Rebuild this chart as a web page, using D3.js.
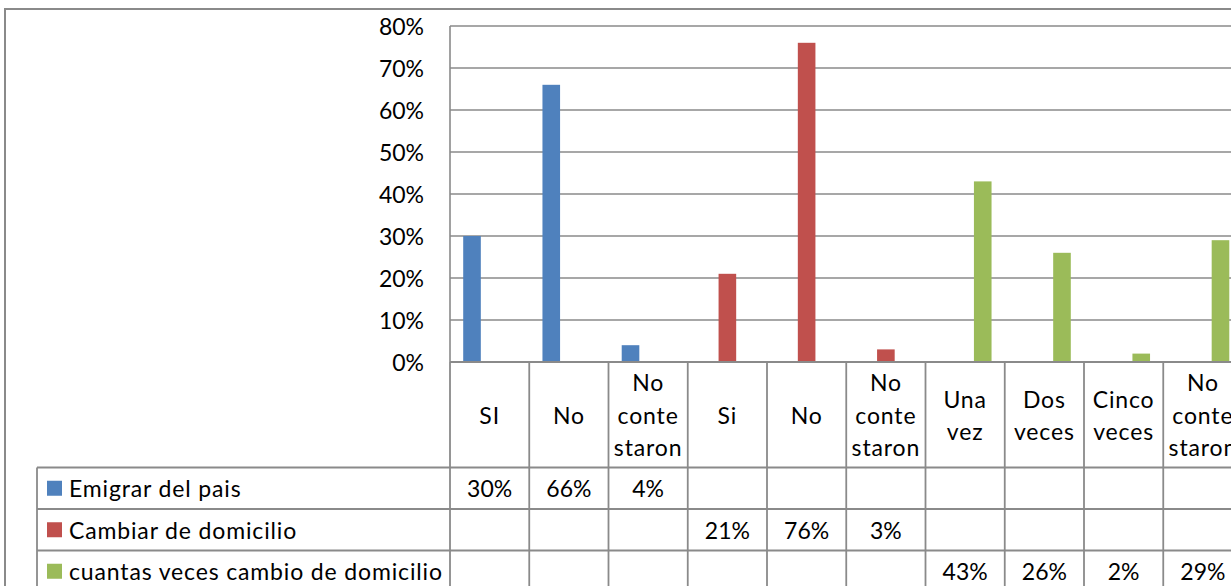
<!DOCTYPE html>
<html>
<head>
<meta charset="utf-8">
<script src="https://cdn.jsdelivr.net/npm/d3@7/dist/d3.min.js"></script>
<style>
  html, body { margin: 0; padding: 0; background: #fff; }
  svg { display: block; }
  text { font-family: Lato, "Liberation Sans", sans-serif; fill: #000; }
  text.word { letter-spacing: 0.85px; }
</style>
</head>
<body>
<svg id="chart" width="1231" height="586"></svg>
<script>
// Categories (header cells of the data table, one array of lines per cell)
const categories = [
  ["SI"], ["No"], ["No", "conte", "staron"],
  ["Si"], ["No"], ["No", "conte", "staron"],
  ["Una", "vez"], ["Dos", "veces"], ["Cinco", "veces"], ["No", "conte", "staron"]
];
const seriesNames = ["Emigrar del pais", "Cambiar de domicilio", "cuantas veces cambio de domicilio"];
const seriesColors = ["#4F81BD", "#C0504D", "#9BBB59"];
// Values in percent; null = no value for that category
const emigrar   = [30, 66, 4, null, null, null, null, null, null, null];
const cambiar   = [null, null, null, 21, 76, 3, null, null, null, null];
const cuantas   = [null, null, null, null, null, null, 43, 26, 2, 29];
const yTicks = [0, 10, 20, 30, 40, 50, 60, 70, 80];

const seriesValues = [emigrar, cambiar, cuantas];

const svg = d3.select("#chart");
const grey = "#8a8a8a";
const fontSize = 23;

// Layout
const plotLeft = 450, plotTop = 26, plotBottom = 362;
const colW = 79.25;
const tableLeft = 37;
const headerBottom = 467.5;
const rowH = 41.5;

// Chart area border
svg.append("rect")
  .attr("x", 5).attr("y", 9)
  .attr("width", 1300).attr("height", 700)
  .attr("fill", "none").attr("stroke", grey).attr("stroke-width", 2);

const idx = d3.range(categories.length);
const x = d3.scaleBand().domain(idx).range([plotLeft, plotLeft + colW * categories.length]).padding(0);
const xs = d3.scaleBand().domain(d3.range(3)).range([0, x.bandwidth()])
  .paddingInner(0).paddingOuter(0.75);
const y = d3.scaleLinear().domain([0, 80]).range([plotBottom, plotTop]);

// Gridlines
svg.append("g").selectAll("line").data(yTicks.filter(d => d > 0)).join("line")
  .attr("x1", plotLeft).attr("x2", x.range()[1])
  .attr("y1", d => y(d)).attr("y2", d => y(d))
  .attr("stroke", grey).attr("stroke-width", 1.6);

// Y axis labels
svg.append("g").selectAll("text").data(yTicks).join("text")
  .attr("x", 424).attr("y", d => y(d))
  .attr("text-anchor", "end").attr("dominant-baseline", "central")
  .style("font-size", fontSize + "px")
  .text(d => d3.format(".0%")(d / 100));

// Bars
seriesValues.forEach((vals, s) => {
  svg.append("g").selectAll("rect")
    .data(idx.filter(i => vals[i] != null && vals[i] > 0))
    .join("rect")
    .attr("x", i => x(i) + xs(s))
    .attr("width", xs.bandwidth())
    .attr("y", i => y(vals[i]))
    .attr("height", i => y(0) - y(vals[i]))
    .attr("fill", seriesColors[s]);
});

// Y axis line
svg.append("line")
  .attr("x1", plotLeft).attr("x2", plotLeft)
  .attr("y1", plotTop).attr("y2", plotBottom)
  .attr("stroke", grey).attr("stroke-width", 1.6);

// Data table
const tableBottom = headerBottom + rowH * seriesNames.length;
const t = svg.append("g");
// X axis / header top line
t.append("line").attr("x1", plotLeft).attr("x2", x.range()[1])
  .attr("y1", plotBottom).attr("y2", plotBottom)
  .attr("stroke", grey).attr("stroke-width", 1.8);
// Row lines
d3.range(seriesNames.length + 1).forEach(r => {
  t.append("line").attr("x1", tableLeft).attr("x2", x.range()[1])
    .attr("y1", headerBottom + r * rowH).attr("y2", headerBottom + r * rowH)
    .attr("stroke", grey).attr("stroke-width", 1.8);
});
// Column lines
idx.concat([categories.length]).forEach(i => {
  const xx = plotLeft + i * colW;
  t.append("line").attr("x1", xx).attr("x2", xx)
    .attr("y1", plotBottom).attr("y2", tableBottom)
    .attr("stroke", grey).attr("stroke-width", 1.8);
});
t.append("line").attr("x1", tableLeft).attr("x2", tableLeft)
  .attr("y1", headerBottom).attr("y2", tableBottom)
  .attr("stroke", grey).attr("stroke-width", 1.8);

// Header labels
const lineH = 32.5;
const headerMid = (plotBottom + headerBottom) / 2;
categories.forEach((lines, i) => {
  const cx = x(i) + x.bandwidth() / 2;
  lines.forEach((ln, k) => {
    t.append("text").attr("class", "word")
      .attr("x", cx)
      .attr("y", headerMid + (k - (lines.length - 1) / 2) * lineH)
      .attr("text-anchor", "middle").attr("dominant-baseline", "central")
      .style("font-size", fontSize + "px")
      .text(ln);
  });
});

// Legend keys and series names
seriesNames.forEach((name, s) => {
  const cy = headerBottom + s * rowH + rowH / 2;
  t.append("rect").attr("x", 47).attr("y", cy - 7.5)
    .attr("width", 15).attr("height", 15).attr("fill", seriesColors[s]);
  t.append("text").attr("class", "word").attr("x", 69).attr("y", cy)
    .attr("dominant-baseline", "central")
    .style("font-size", fontSize + "px")
    .text(name);
  // Values
  seriesValues[s].forEach((v, i) => {
    if (v == null) return;
    t.append("text")
      .attr("x", x(i) + x.bandwidth() / 2).attr("y", cy)
      .attr("text-anchor", "middle").attr("dominant-baseline", "central")
      .style("font-size", fontSize + "px")
      .text(v + "%");
  });
});
</script>
</body>
</html>
